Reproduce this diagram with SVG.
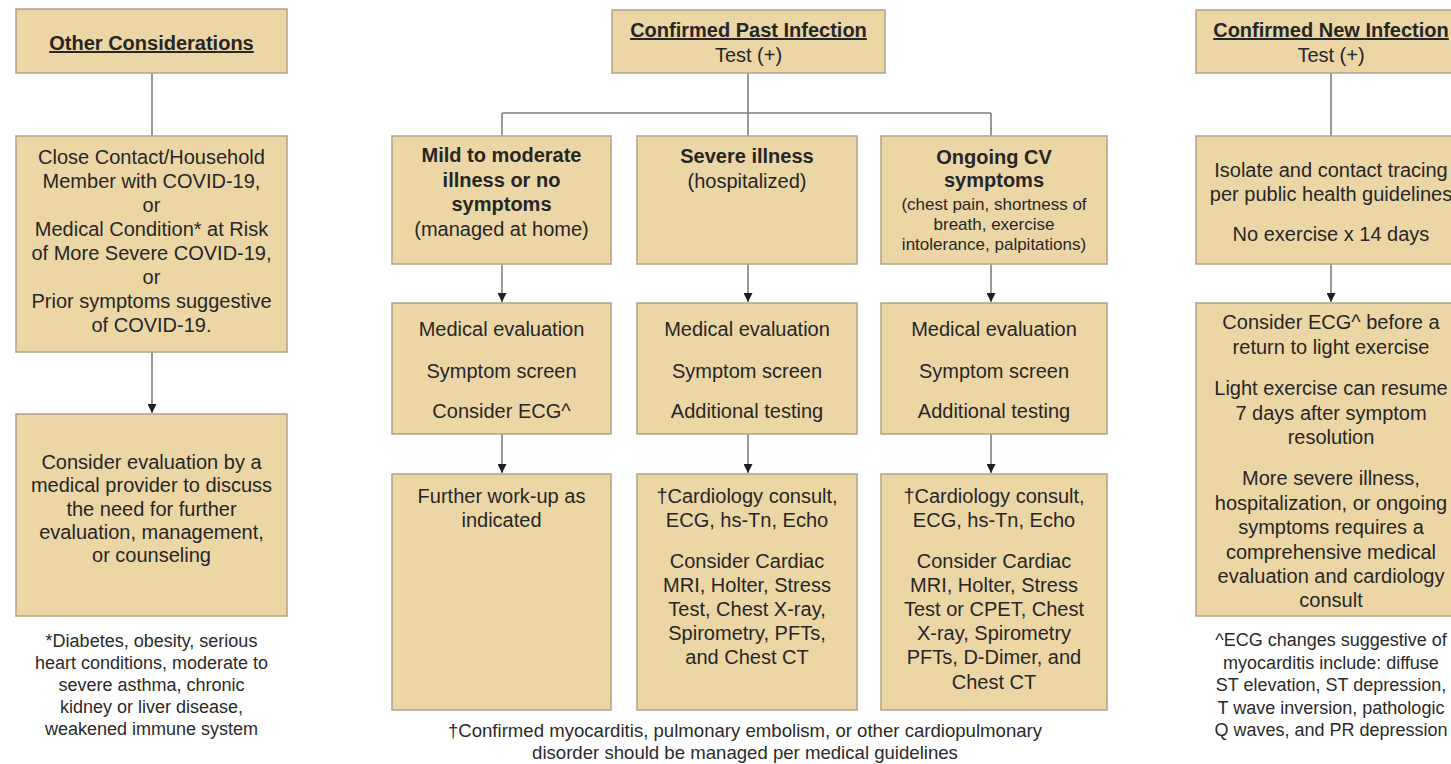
<svg xmlns="http://www.w3.org/2000/svg" width="1451" height="764" viewBox="0 0 1451 764">
<defs>
<marker id="arr" viewBox="0 0 10 10" refX="10" refY="5" markerWidth="9" markerHeight="9" markerUnits="userSpaceOnUse" orient="auto">
<path d="M0,0 L10,5 L0,10 z" fill="#1e1e1e"/>
</marker>
<style>
.box{fill:#EDD6A5;stroke:#AFA28A;stroke-width:1.5}
.t{font-family:"Liberation Sans",Arial,sans-serif;font-size:20px;fill:#262626;text-anchor:middle}
.b{font-weight:bold}
.u{text-decoration:underline}
.s{font-size:17px}
.f{font-family:"Liberation Sans",Arial,sans-serif;font-size:18px;fill:#2a2a2a;text-anchor:middle}
.fm{font-size:18.6px}
.ln{fill:none;stroke:#7f7f7f;stroke-width:1.6}
</style>
</defs>
<rect width="1451" height="764" fill="#ffffff"/>

<g id="connectors">
<path class="ln" d="M152,73 V136"/>
<path class="ln" d="M152,352 V413" marker-end="url(#arr)"/>
<path class="ln" d="M748,73 V113 M502,113 H991 M502,113 V136 M748,113 V136 M991,113 V136"/>
<path class="ln" d="M502,264 V302" marker-end="url(#arr)"/>
<path class="ln" d="M748,264 V302" marker-end="url(#arr)"/>
<path class="ln" d="M991,264 V302" marker-end="url(#arr)"/>
<path class="ln" d="M502,434 V473" marker-end="url(#arr)"/>
<path class="ln" d="M748,434 V473" marker-end="url(#arr)"/>
<path class="ln" d="M991,434 V473" marker-end="url(#arr)"/>
<path class="ln" d="M1331,73 V136"/>
<path class="ln" d="M1331,264 V302" marker-end="url(#arr)"/>
</g>

<g id="other-considerations">
<rect class="box" x="16" y="9" width="271" height="64"/>
<text class="t b u" x="151.5" y="50">Other Considerations</text>
</g>

<g id="close-contact">
<rect class="box" x="16" y="136" width="271" height="216"/>
<text class="t" x="151.5" y="163.5">Close Contact/Household</text>
<text class="t" x="151.5" y="187.6">Member with COVID-19,</text>
<text class="t" x="151.5" y="211.7">or</text>
<text class="t" x="151.5" y="235.8">Medical Condition* at Risk</text>
<text class="t" x="151.5" y="259.9">of More Severe COVID-19,</text>
<text class="t" x="151.5" y="284">or</text>
<text class="t" x="151.5" y="308.1">Prior symptoms suggestive</text>
<text class="t" x="151.5" y="332.2">of COVID-19.</text>
</g>

<g id="consider-evaluation">
<rect class="box" x="16" y="414" width="271" height="202"/>
<text class="t" x="151.5" y="469">Consider evaluation by a</text>
<text class="t" x="151.5" y="492.3">medical provider to discuss</text>
<text class="t" x="151.5" y="515.6">the need for further</text>
<text class="t" x="151.5" y="538.9">evaluation, management,</text>
<text class="t" x="151.5" y="562.2">or counseling</text>
</g>

<g id="footnote-left">
<text class="f" x="151.5" y="647">*Diabetes, obesity, serious</text>
<text class="f" x="151.5" y="669">heart conditions, moderate to</text>
<text class="f" x="151.5" y="691">severe asthma, chronic</text>
<text class="f" x="151.5" y="713">kidney or liver disease,</text>
<text class="f" x="151.5" y="735">weakened immune system</text>
</g>

<g id="confirmed-past">
<rect class="box" x="612" y="10" width="273" height="63"/>
<text class="t b u" x="748.5" y="37">Confirmed Past Infection</text>
<text class="t" x="748.5" y="62">Test (+)</text>
</g>

<g id="mild">
<rect class="box" x="392" y="136" width="219" height="128"/>
<text class="t b" x="501.5" y="162">Mild to moderate</text>
<text class="t b" x="501.5" y="186.5">illness or no</text>
<text class="t b" x="501.5" y="211">symptoms</text>
<text class="t" x="501.5" y="235.5">(managed at home)</text>
</g>

<g id="severe">
<rect class="box" x="637" y="136" width="220" height="128"/>
<text class="t b" x="747" y="163">Severe illness</text>
<text class="t" x="747" y="188">(hospitalized)</text>
</g>

<g id="ongoing">
<rect class="box" x="881" y="136" width="226" height="128"/>
<text class="t b" x="994" y="164">Ongoing CV</text>
<text class="t b" x="994" y="187">symptoms</text>
<text class="t s" x="994" y="210">(chest pain, shortness of</text>
<text class="t s" x="994" y="230">breath, exercise</text>
<text class="t s" x="994" y="250">intolerance, palpitations)</text>
</g>

<g id="mild-eval">
<rect class="box" x="392" y="303" width="219" height="131"/>
<text class="t" x="501.5" y="336">Medical evaluation</text>
<text class="t" x="501.5" y="378">Symptom screen</text>
<text class="t" x="501.5" y="418">Consider ECG^</text>
</g>

<g id="severe-eval">
<rect class="box" x="637" y="303" width="220" height="131"/>
<text class="t" x="747" y="336">Medical evaluation</text>
<text class="t" x="747" y="378">Symptom screen</text>
<text class="t" x="747" y="418">Additional testing</text>
</g>

<g id="ongoing-eval">
<rect class="box" x="881" y="303" width="226" height="131"/>
<text class="t" x="994" y="336">Medical evaluation</text>
<text class="t" x="994" y="378">Symptom screen</text>
<text class="t" x="994" y="418">Additional testing</text>
</g>

<g id="mild-workup">
<rect class="box" x="392" y="474" width="219" height="236"/>
<text class="t" x="501.5" y="503">Further work-up as</text>
<text class="t" x="501.5" y="527">indicated</text>
</g>

<g id="severe-workup">
<rect class="box" x="637" y="474" width="220" height="236"/>
<text class="t" x="747" y="503">†Cardiology consult,</text>
<text class="t" x="747" y="527">ECG, hs-Tn, Echo</text>
<text class="t" x="747" y="568">Consider Cardiac</text>
<text class="t" x="747" y="592">MRI, Holter, Stress</text>
<text class="t" x="747" y="616">Test, Chest X-ray,</text>
<text class="t" x="747" y="640">Spirometry, PFTs,</text>
<text class="t" x="747" y="664">and Chest CT</text>
</g>

<g id="ongoing-workup">
<rect class="box" x="881" y="474" width="226" height="236"/>
<text class="t" x="994" y="503">†Cardiology consult,</text>
<text class="t" x="994" y="527">ECG, hs-Tn, Echo</text>
<text class="t" x="994" y="568">Consider Cardiac</text>
<text class="t" x="994" y="592">MRI, Holter, Stress</text>
<text class="t" x="994" y="616">Test or CPET, Chest</text>
<text class="t" x="994" y="640">X-ray, Spirometry</text>
<text class="t" x="994" y="664">PFTs, D-Dimer, and</text>
<text class="t" x="994" y="689">Chest CT</text>
</g>

<g id="footnote-middle">
<text class="f fm" x="745" y="737">†Confirmed myocarditis, pulmonary embolism, or other cardiopulmonary</text>
<text class="f fm" x="745" y="759">disorder should be managed per medical guidelines</text>
</g>

<g id="confirmed-new">
<rect class="box" x="1196" y="10" width="270" height="63"/>
<text class="t b u" x="1331" y="37">Confirmed New Infection</text>
<text class="t" x="1331" y="62">Test (+)</text>
</g>

<g id="isolate">
<rect class="box" x="1196" y="136" width="270" height="128"/>
<text class="t" x="1331" y="177">Isolate and contact tracing</text>
<text class="t" x="1331" y="200.5">per public health guidelines</text>
<text class="t" x="1331" y="240.5">No exercise x 14 days</text>
</g>

<g id="return-exercise">
<rect class="box" x="1196" y="303" width="270" height="313"/>
<text class="t" x="1331" y="329">Consider ECG^ before a</text>
<text class="t" x="1331" y="354">return to light exercise</text>
<text class="t" x="1331" y="395">Light exercise can resume</text>
<text class="t" x="1331" y="419.5">7 days after symptom</text>
<text class="t" x="1331" y="444">resolution</text>
<text class="t" x="1331" y="485">More severe illness,</text>
<text class="t" x="1331" y="509.5">hospitalization, or ongoing</text>
<text class="t" x="1331" y="534">symptoms requires a</text>
<text class="t" x="1331" y="558.5">comprehensive medical</text>
<text class="t" x="1331" y="583">evaluation and cardiology</text>
<text class="t" x="1331" y="607">consult</text>
</g>

<g id="footnote-right">
<text class="f" x="1331" y="646">^ECG changes suggestive of</text>
<text class="f" x="1331" y="668.5">myocarditis include: diffuse</text>
<text class="f" x="1331" y="691">ST elevation, ST depression,</text>
<text class="f" x="1331" y="713.5">T wave inversion, pathologic</text>
<text class="f" x="1331" y="736">Q waves, and PR depression</text>
</g>
</svg>
